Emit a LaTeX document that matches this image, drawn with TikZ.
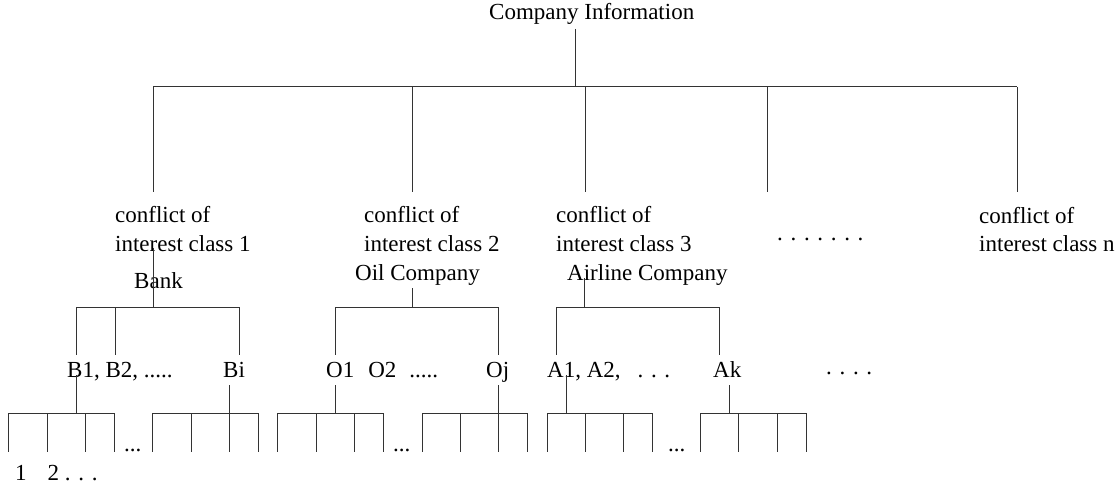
\documentclass[tikz,border=0pt]{standalone}
\usepackage{fontspec}
\setmainfont{Liberation Serif}
\begin{document}
\begin{tikzpicture}[x=1pt,y=-1pt,
  lbl/.style={inner sep=0pt, anchor=base west, font=\fontsize{23}{29}\selectfont},
  ln/.style={line width=1pt, draw=black!80}]
\useasboundingbox (0,0) rectangle (1118,489);
% ---------- texts ----------
\node[lbl] (top) at (489,20) {Company Information};
\node[lbl] (c1a) at (115,222) {conflict of};
\node[lbl] (c1b) at (115,251) {interest class 1};
\node[lbl] (c2a) at (364,222) {conflict of};
\node[lbl] (c2b) at (364,251) {interest class 2};
\node[lbl] (c3a) at (556,222) {conflict of};
\node[lbl] (c3b) at (556,251) {interest class 3};
\node[lbl] (cdots) at (777,240) {. . . . . . .};
\node[lbl] (cna) at (979,223) {conflict of};
\node[lbl] (cnb) at (979,251) {interest class n};
\node[lbl] (bank) at (134,288) {Bank};
\node[lbl] (oil) at (355,280) {Oil Company};
\node[lbl] (air) at (567,280) {Airline Company};
\node[lbl] (b1) at (67,377) {B1, B2, .....};
\node[lbl] (bi) at (223,377) {Bi};
\node[lbl] (o1) at (326,377) {O1\hspace{14pt}O2\hspace{13pt}.....};
\node[lbl] (oj) at (486,377) {Oj};
\node[lbl] (a1) at (547,377) {A1, A2,\hspace{17pt}. . .};
\node[lbl] (ak) at (713,377) {Ak};
\node[lbl] (adots) at (826,374) {. . . .};
\node[lbl] (e1) at (124,451) {...};
\node[lbl] (e2) at (393,451) {...};
\node[lbl] (e3) at (668,451) {...};
\node[lbl] (num) at (15,480) {1\hspace{21pt}2 . . .};
% ---------- top level ----------
\coordinate (t0) at (575,29);
\coordinate (t1) at (575,87);
\draw[ln] (t0) -- (t1);
\foreach \i/\x in {1/153,2/412,3/585,4/767,5/1017}{
  \coordinate (h\i) at (\x,87);
  \coordinate (d\i) at (\x,192);
}
\draw[ln] (h1) -- (h5);
\foreach \i in {1,...,5}{\draw[ln] (h\i) -- (d\i);}
% ---------- second level ----------
\foreach \k/\s/\st/\l/\r/\m in {1/153/248/76/239/115, 2/412/288/335/498/335, 3/584/278/556/719/556}{
  \coordinate (s\k) at (\s,\st);
  \coordinate (j\k) at (\s,307);
  \coordinate (L\k) at (\l,307);
  \coordinate (R\k) at (\r,307);
  \coordinate (M\k) at (\m,307);
  \coordinate (Lb\k) at (\l,355);
  \coordinate (Rb\k) at (\r,355);
  \coordinate (Mb\k) at (\m,355);
  \draw[ln] (s\k) -- (j\k);
  \draw[ln] (L\k) -- (R\k);
  \draw[ln] (L\k) -- (Lb\k);
  \draw[ln] (R\k) -- (Rb\k);
  \draw[ln] (M\k) -- (Mb\k);
}
% ---------- third level ----------
\foreach \g/\x/\ys in {1/76/375, 2/229/385, 3/335/385, 4/498/385, 5/566/375, 6/729/385}{
  \coordinate (u\g) at (\x,\ys);
  \coordinate (v\g) at (\x,413);
  \draw[ln] (u\g) -- (v\g);
}
\foreach \g/\a/\b/\c/\d in {1/8/47/85/114, 2/152/191/229/258, 3/277/316/354/383,
                            4/422/460/498/527, 5/547/585/623/652, 6/700/738/777/806}{
  \coordinate (ga\g) at (\a,413);
  \coordinate (gd\g) at (\d,413);
  \draw[ln] (ga\g) -- (gd\g);
  \foreach \x [count=\n] in {\a,\b,\c,\d}{
    \coordinate (leaf\g-\n) at (\x,413);
    \coordinate (leafb\g-\n) at (\x,452);
    \draw[ln] (leaf\g-\n) -- (leafb\g-\n);
  }
}
\end{tikzpicture}
\end{document}
